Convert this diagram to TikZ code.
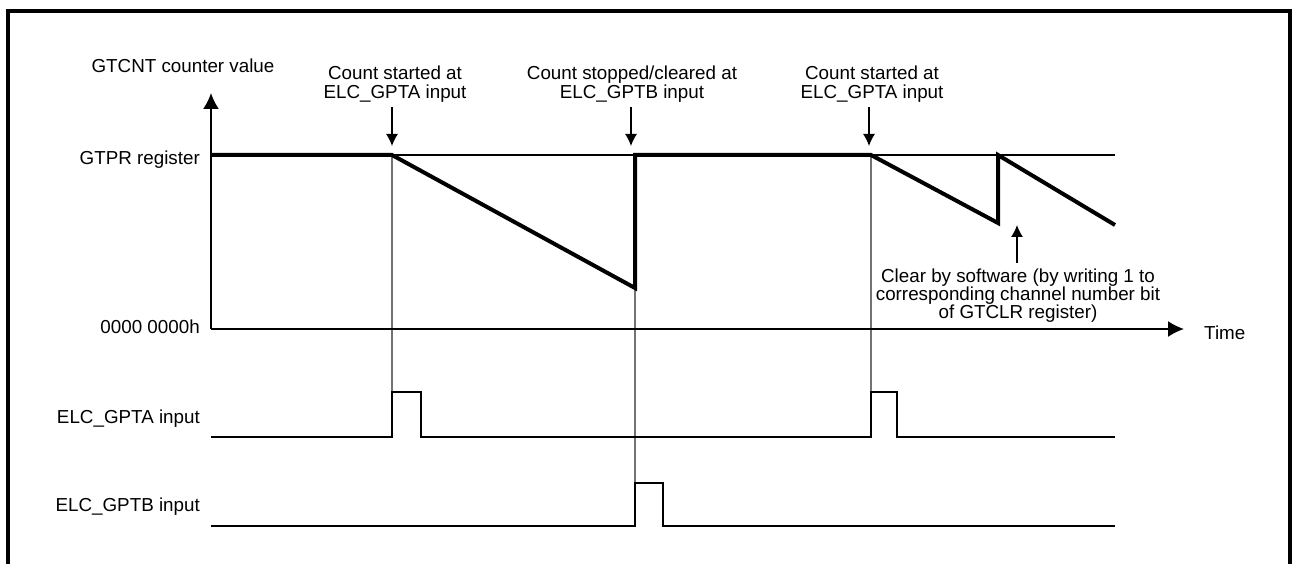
\documentclass[tikz,border=0pt]{standalone}
\usepackage{fontspec}
\setmainfont{Liberation Sans}
\usetikzlibrary{arrows.meta}
\tikzset{
  x=1pt, y=-1pt,
  lbl/.style={inner sep=0pt, font=\fontsize{18.8}{18}\selectfont},
  axis/.style={line width=1.8pt, -{Latex[length=16pt,width=16pt]}},
  note/.style={line width=1.3pt, -{Latex[length=12pt,width=12pt]}},
  cnt/.style={line width=4pt, line join=miter},
  ref/.style={line width=1.3pt},
  guide/.style={line width=1.1pt, black!55},
  pulse/.style={line width=2pt, line join=miter},
  frame/.style={line width=3.5pt}
}
\begin{document}
\begin{tikzpicture}
\useasboundingbox (0,0) rectangle (1293,564);
\draw[frame] (8,570) -- (8,11) -- (1290,11) -- (1290,570);

% coordinates
\coordinate (O) at (211,329);
\coordinate (Ytop) at (211,93);
\coordinate (Xend) at (1184,329);
\coordinate (P0) at (211,155);
\coordinate (S1) at (392,155);
\coordinate (B1) at (635,288);
\coordinate (T1) at (635,155);
\coordinate (S2) at (871,155);
\coordinate (B2) at (998,223);
\coordinate (T2) at (998,155);
\coordinate (E2) at (1115,225);
\coordinate (R2) at (1115,155);

% guide lines
\coordinate (Ahi1) at (392,392);
\coordinate (Ahi2) at (871,392);
\coordinate (Bhi1) at (635,483);
\draw[guide] (S1) -- (Ahi1);
\draw[guide] (B1) -- (Bhi1);
\draw[guide] (S2) -- (Ahi2);

% axes
\draw[axis] (O) -- (Ytop);
\draw[axis] (O) -- (Xend);
\draw[ref] (P0) -- (R2);

% counter
\draw[cnt] (P0) -- (S1) -- (B1) -- (T1) -- (S2) -- (B2) -- (T2) -- (E2);

% pulses
\draw[pulse] (211,437) -- (392,437) -- (Ahi1) -- (421,392) -- (421,437) -- (871,437) -- (Ahi2) -- (897,392) -- (897,437) -- (1115,437);
\draw[pulse] (211,526) -- (635,526) -- (Bhi1) -- (663,483) -- (663,526) -- (1115,526);

% labels
\node[lbl, anchor=base] (ylab) at (183,73) {GTCNT counter value};
\node[lbl, anchor=base east] (gtpr) at (200,165) {GTPR register};
\node[lbl, anchor=base east] (zero) at (200,333) {0000 0000h};
\node[lbl, anchor=base west] (time) at (1204,339) {Time};
\node[lbl, anchor=base east] (ga) at (200,423) {ELC\_GPTA input};
\node[lbl, anchor=base east] (gb) at (200,511) {ELC\_GPTB input};

\node[lbl, anchor=north, align=center] (n1) at (395,66) {Count started at\\[1pt]ELC\_GPTA input};
\node[lbl, anchor=north, align=center] (n2) at (632,66) {Count stopped/cleared at\\[1pt]ELC\_GPTB input};
\node[lbl, anchor=north, align=center] (n3) at (872,66) {Count started at\\[1pt]ELC\_GPTA input};
\node[lbl, anchor=north, align=center] (n4) at (1018,269) {Clear by software (by writing 1 to\\corresponding channel number bit\\of GTCLR register)};

\coordinate (a1) at (392,107); \coordinate (a1e) at (392,146);
\coordinate (a2) at (631,107); \coordinate (a2e) at (631,146);
\coordinate (a3) at (869,107); \coordinate (a3e) at (869,146);
\coordinate (a4) at (1017,263); \coordinate (a4e) at (1017,225);
\draw[note] (a1) -- (a1e);
\draw[note] (a2) -- (a2e);
\draw[note] (a3) -- (a3e);
\draw[note] (a4) -- (a4e);
\end{tikzpicture}
\end{document}
